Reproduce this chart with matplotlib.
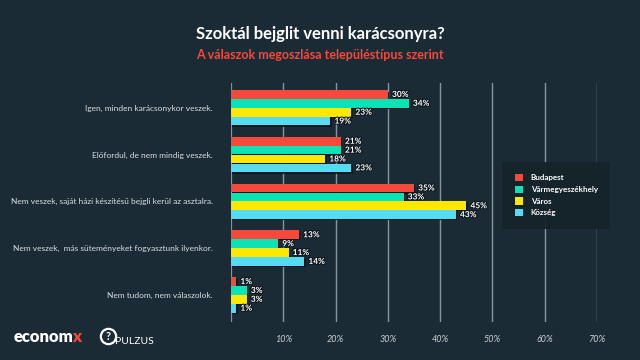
import matplotlib
matplotlib.use("Agg")
import matplotlib.pyplot as plt
import matplotlib.patheffects as pe
from matplotlib.patches import Patch
from matplotlib.lines import Line2D
import numpy as np

categories = [
    "Igen, minden karácsonykor veszek.",
    "Előfordul, de nem mindig veszek.",
    "Nem veszek, saját házi készítésű bejgli kerül az asztalra.",
    "Nem veszek,  más süteményeket fogyasztunk ilyenkor.",
    "Nem tudom, nem válaszolok.",
]
series = ["Budapest", "Vármegyeszékhely", "Város", "Község"]
budapest = [30, 21, 35, 13, 1]
varmegye = [34, 21, 33, 9, 3]
varos = [23, 18, 45, 11, 3]
kozseg = [19, 23, 43, 14, 1]
ticks = [10, 20, 30, 40, 50, 60, 70]

colors = ["#f4493b", "#0be3b6", "#fde801", "#55dbf4"]
bg = "#1b2b35"

plt.rcParams["font.family"] = ["Lato", "DejaVu Sans"]

fig = plt.figure(figsize=(6.4, 3.6), dpi=100, facecolor=bg)
ax = fig.add_axes([231 / 640, 1 - 322 / 360, (597 - 231) / 640, (322 - 83) / 360])
ax.set_facecolor("none")

bar_h = 0.19
y = np.arange(len(categories))
shadow = [pe.SimplePatchShadow(offset=(1, -1), shadow_rgbFace="#0c161c", alpha=0.9), pe.Normal()]
for i, (name, vals) in enumerate(zip(series, [budapest, varmegye, varos, kozseg])):
    ypos = y + (i - 1.5) * bar_h
    bars = ax.barh(ypos, vals, height=bar_h * 0.97, color=colors[i], label=name, zorder=3)
    for b in bars:
        b.set_path_effects(shadow)
    for yy, v in zip(ypos, vals):
        ax.text(v + 0.8, yy, f"{v}%", va="center", ha="left", color="white",
                fontsize=6, fontweight="bold", zorder=4,
                path_effects=[pe.withStroke(linewidth=1.5, foreground="#0c161c")])

ax.set_xlim(0, 70)
ax.set_ylim(4.58, -0.53)
for t in ticks:
    ax.axvline(t, color="#8a959b", lw=1.0, zorder=1)
ax.axvline(0, color="#8a959b", lw=1.6, zorder=1)
ax.set_xticks(ticks)
ax.set_xticklabels([f"{t}%" for t in ticks], fontstyle="italic", color="#c9d0d4", fontsize=6.5)
ax.tick_params(axis="x", length=0, pad=9)
ax.set_yticks(y)
ax.set_yticklabels(categories, color="#d9dee1", fontsize=6)
ax.tick_params(axis="y", length=0, pad=13)
for s in ax.spines.values():
    s.set_visible(False)

handles = [Patch(facecolor=c, label=n) for c, n in zip(colors, series)]
leg = fig.legend(handles=handles, loc="center", bbox_to_anchor=(0.869, 0.458),
                 frameon=True, facecolor="#15232b", edgecolor="none", framealpha=0.95,
                 fancybox=False, fontsize=5.8, handlelength=1.0, handleheight=1.0,
                 borderpad=1.5, labelspacing=0.55, handletextpad=1.0)
leg.get_frame().set_boxstyle("square", pad=0)
for t in leg.get_texts():
    t.set_color("white")
    t.set_fontweight("bold")

fig.text(0.5, 1 - 34 / 360, "Szoktál bejglit venni karácsonyra?", ha="center", va="center",
         color="white", fontsize=12, fontweight="bold")
fig.text(0.5, 1 - 55 / 360, "A válaszok megoszlása településtípus szerint", ha="center",
         va="center", color="#f4493b", fontsize=9, fontweight="bold")

# logos as text
t1 = fig.text(14 / 640, 1 - 342 / 360, "econom", color="white", fontsize=12,
              fontweight="heavy", ha="left", va="baseline")
ax.annotate("x", xy=(1, 0), xycoords=t1, xytext=(-1, 0), textcoords="offset points",
            color="#f4493b", fontsize=12, fontweight="heavy", ha="left", va="bottom",
            annotation_clip=False)
fig.add_artist(Line2D([108 / 640], [1 - 336 / 360], marker="o", markersize=11,
                      markerfacecolor="none", markeredgecolor="white", markeredgewidth=1.6,
                      transform=fig.transFigure))
fig.text(108 / 640, 1 - 336 / 360, "?", color="white", fontsize=8, fontweight="bold",
         ha="center", va="center")
fig.text(115 / 640, 1 - 341 / 360, "PULZUS", color="white", fontsize=7.5, ha="left",
         va="center")

fig.savefig("out.png", dpi=100, facecolor=bg)
